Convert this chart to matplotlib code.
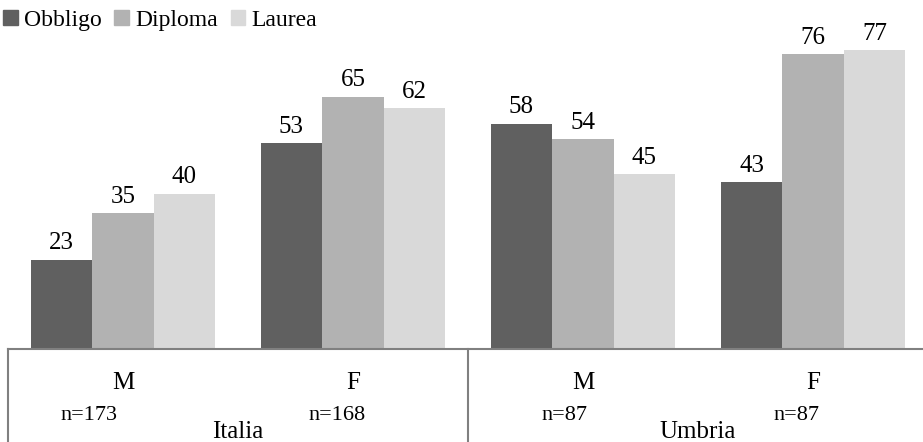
import matplotlib
matplotlib.use("Agg")
import matplotlib.pyplot as plt
import matplotlib.transforms as mtransforms
from matplotlib.lines import Line2D
from matplotlib.patches import Patch
import numpy as np

# ---- data ----
series = ["Obbligo", "Diploma", "Laurea"]
sex_labels = ["M", "F", "M", "F"]
n_labels = ["n=173", "n=168", "n=87", "n=87"]
regions = ["Italia", "Umbria"]
obbligo = [23, 53, 58, 43]
diploma = [35, 65, 54, 76]
laurea = [40, 62, 45, 77]
values = [obbligo, diploma, laurea]
colors = ["#606060", "#b2b2b2", "#d9d9d9"]

plt.rcParams["font.family"] = ["Liberation Serif", "DejaVu Serif"]
FS = 18

W, H = 923, 442
fig = plt.figure(figsize=(W / 100, H / 100), dpi=100)
base_px = 349
left_px = 8
cat_px = 230
ax = fig.add_axes([left_px / W, (H - base_px) / H, 4 * cat_px / W, base_px / H])
ax.set_xlim(-0.5, 3.5)
ax.set_ylim(0, base_px / 3.88)
ax.axis("off")

x = np.arange(len(obbligo))
bw = 61.5 / cat_px
for i, (vals, c) in enumerate(zip(values, colors)):
    xs = x + (i - 1) * bw
    ax.bar(xs, vals, width=bw, color=c, label=series[i])
    for xi, v in zip(xs, vals):
        ax.annotate(f"{v}", (xi, v), xytext=(0, 4), textcoords="offset points",
                    ha="center", va="bottom", fontsize=FS)

# category box
trans = mtransforms.blended_transform_factory(ax.transData, ax.transAxes)
bottom = -(H - base_px) / base_px
lc = "#808080"
ax.add_line(Line2D([-0.5, 3.5], [0, 0], transform=trans, color=lc, lw=1.5, clip_on=False))
for xv in [-0.5, 1.5, 3.5]:
    ax.add_line(Line2D([xv, xv], [0, bottom], transform=trans, color=lc, lw=1.5, clip_on=False))

def ay(px):
    return -(px - base_px) / base_px

for xi, s in zip(x, sex_labels):
    ax.text(xi, ay(383), s, transform=trans, ha="center", va="center", fontsize=FS)
n_off = [-0.15, -0.07, -0.08, -0.07]
for xi, s, o in zip(x, n_labels, n_off):
    ax.text(xi + o, ay(416), s, transform=trans, ha="center", va="center", fontsize=16)
for k, r in enumerate(regions):
    ax.text(2 * k + 0.5, ay(432), r, transform=trans, ha="center", va="center", fontsize=FS)

handles = [Patch(color=c, label=s) for c, s in zip(colors, series)]
fig.legend(handles=handles, loc="upper left", bbox_to_anchor=(-0.012, 1.01), ncol=3,
           frameon=False, fontsize=17, handlelength=0.62, handleheight=0.62,
           handletextpad=0.25, columnspacing=0.55, borderaxespad=0.2)

fig.savefig("out.png", dpi=100)
